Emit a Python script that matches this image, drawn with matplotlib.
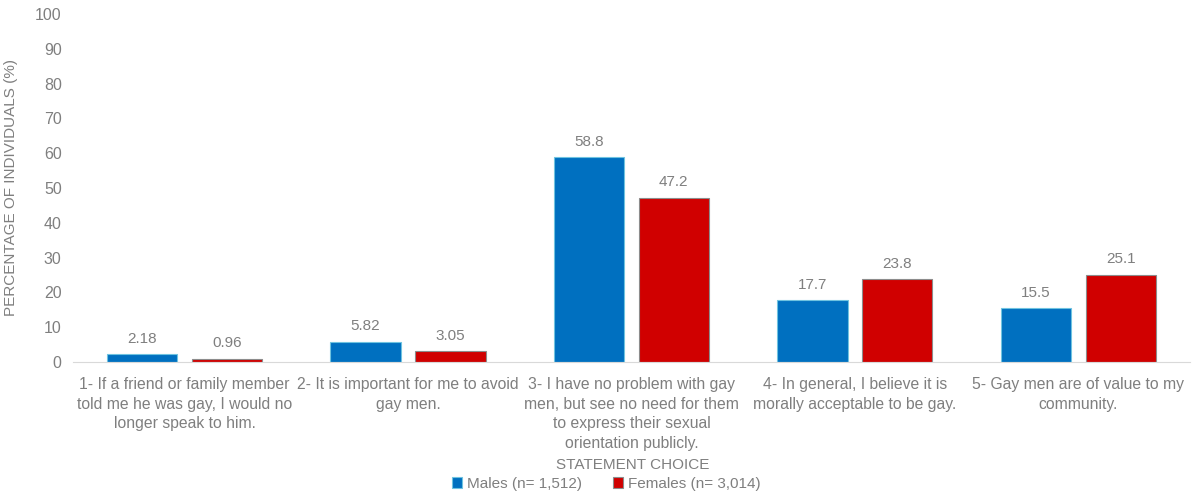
import numpy as np
import matplotlib.pyplot as plt

# dados
categorias = [
    "1- If a friend or family member\ntold me he was gay, I would no\nlonger speak to him.",
    "2- It is important for me to avoid\ngay men.",
    "3- I have no problem with gay\nmen, but see no need for them\nto express their sexual\norientation publicly.",
    "4- In general, I believe it is\nmorally acceptable to be gay.",
    "5- Gay men are of value to my\ncommunity.",
]
homens = [2.18, 5.82, 58.8, 17.7, 15.5]
mulheres = [0.96, 3.05, 47.2, 23.8, 25.1]
rotulos_h = ["2.18", "5.82", "58.8", "17.7", "15.5"]
rotulos_m = ["0.96", "3.05", "47.2", "23.8", "25.1"]
legenda = ["Males (n= 1,512)", "Females (n= 3,014)"]

plt.rcParams['font.family'] = ['Liberation Sans', 'DejaVu Sans']
cinza = '#7f7f7f'

fig = plt.figure(figsize=(11.93, 4.97), dpi=100)
ax = fig.add_axes([0.061, 0.2716, 0.9365, 0.7004])

x = np.arange(len(categorias))
larg = 0.315
desl = 0.19

b1 = ax.bar(x - desl, homens, larg, color='#0070c0', edgecolor='#6fc3e0', linewidth=0.8, label=legenda[0])
b2 = ax.bar(x + desl, mulheres, larg, color='#d00000', edgecolor='#8c8c8c', linewidth=0.8, label=legenda[1])

for barras, rot in ((b1, rotulos_h), (b2, rotulos_m)):
    for b, t in zip(barras, rot):
        ax.annotate(t, (b.get_x() + b.get_width() / 2, b.get_height()),
                    xytext=(0, 6), textcoords='offset points',
                    ha='center', va='bottom', fontsize=11, color=cinza)

ax.set_xlim(-0.5, len(categorias) - 0.5)
ax.set_ylim(0, 100)
ax.set_yticks(np.arange(0, 101, 10))
ax.tick_params(axis='y', length=0, labelsize=11.5, labelcolor=cinza, pad=8)
ax.set_xticks(x)
ax.set_xticklabels(categorias, fontsize=11.3, color=cinza, linespacing=1.38)
ax.tick_params(axis='x', length=0, pad=11)

for s in ['top', 'right', 'left']:
    ax.spines[s].set_visible(False)
ax.spines['bottom'].set_color('#d9d9d9')

ax.set_ylabel('PERCENTAGE OF INDIVIDUALS (%)', fontsize=11, color=cinza, labelpad=12)
fig.text(0.53, 0.064, 'STATEMENT CHOICE', ha='center', va='center', fontsize=11, color=cinza)

leg = fig.legend(loc='center', bbox_to_anchor=(0.508, 0.026), ncol=2, frameon=False,
                 fontsize=11, handlelength=0.7, handleheight=0.7, handletextpad=0.3,
                 columnspacing=2.0)
for t in leg.get_texts():
    t.set_color(cinza)

fig.savefig('out.png', dpi=100)
